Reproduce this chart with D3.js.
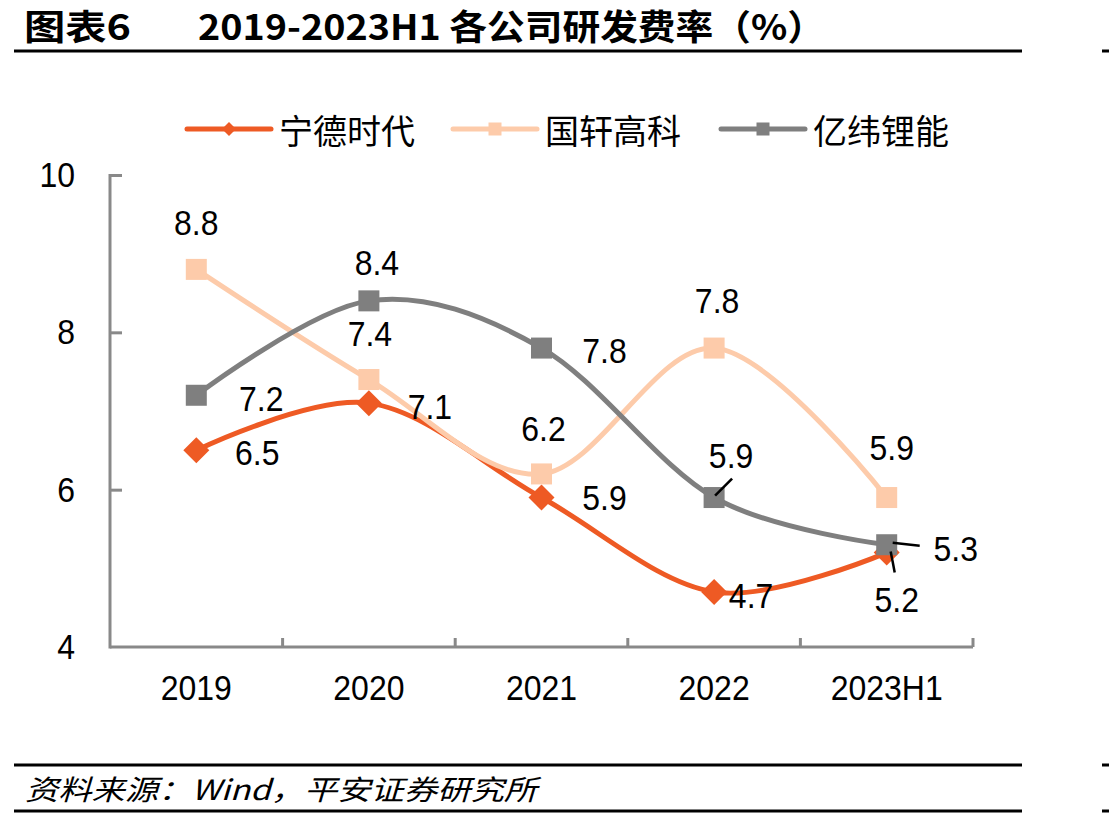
<!DOCTYPE html>
<html lang="zh">
<head>
<meta charset="UTF-8">
<script src="https://d3js.org/d3.v7.min.js"></script>
<style>
    body { margin: 0; background: #fff; }
    svg { display: block; }
    text { font-family: "Liberation Sans", Arial, "Noto Sans CJK SC", sans-serif; fill: #000; }
    .cjk { font-family: "Noto Sans CJK SC", sans-serif; }
    .axis path, .axis line { stroke: #898989; stroke-width: 3; fill: none; }
    .axis text { font-size: 32px; }
    .label { font-size: 32px; }
</style>
</head>
<body>
<svg id="chart" width="1109" height="821"></svg>
<script>
// data
const categories = ["2019", "2020", "2021", "2022", "2023H1"];
const seriesNames = ["宁德时代", "国轩高科", "亿纬锂能"];
const catlValues = [6.5, 7.1, 5.9, 4.7, 5.2];
const gotionValues = [8.8, 7.4, 6.2, 7.8, 5.9];
const eveValues = [7.2, 8.4, 7.8, 5.9, 5.3];
const yTicks = [4, 6, 8, 10];

const colors = ["#EE5A24", "#FDCBAA", "#7F7F7F"];
const shapes = ["diamond", "square", "square"];
const stretch = 1.12; // text in the original is a bit taller than wide

// label offsets from each marker, [dx, dy]
const labelOffsets = [
    [[61, 2], [61, 3], [63, 0], [37, 3], [10, 47]],
    [[0, -47], [1, -46], [2, -46], [3, -48], [5, -50]],
    [[65, 3], [8, -39], [63, 2], [17, -42], [69, 4]]
];

const svg = d3.select("#chart");

// title
svg.append("text").attr("class", "cjk")
    .attr("transform", "translate(24,40) scale(1,1.1)")
    .attr("font-size", 32).attr("font-weight", "bold")
    .attr("textLength", 107).attr("lengthAdjust", "spacingAndGlyphs")
    .text("图表6");
svg.append("text").attr("class", "cjk")
    .attr("transform", "translate(198,40) scale(1,1.1)")
    .attr("font-size", 32).attr("font-weight", "bold")
    .attr("textLength", 627).attr("lengthAdjust", "spacingAndGlyphs")
    .text("2019-2023H1 各公司研发费率（%）");

// rules
[51, 765, 811].forEach(y => {
    svg.append("line").attr("x1", 14).attr("x2", 1022).attr("y1", y).attr("y2", y)
        .attr("stroke", "#000").attr("stroke-width", 3);
    svg.append("line").attr("x1", 1102).attr("x2", 1109).attr("y1", y).attr("y2", y)
        .attr("stroke", "#000").attr("stroke-width", 3);
});

// footer
svg.append("text").attr("class", "cjk")
    .attr("x", 25).attr("y", 800)
    .attr("font-size", 28).attr("font-style", "italic")
    .attr("textLength", 512).attr("lengthAdjust", "spacingAndGlyphs")
    .text("资料来源：Wind，平安证券研究所");

// scales
const x = d3.scaleBand().domain(categories).range([110, 973]).padding(0);
const y = d3.scaleLinear().domain([4, 10]).range([647, 175]);
const cx = d => x(d) + x.bandwidth() / 2;

// y axis
const yAxis = svg.append("g").attr("class", "axis").attr("transform", "translate(110,0)")
    .call(d3.axisLeft(y).tickValues(yTicks).tickSizeInner(-12).tickSizeOuter(0).tickPadding(35).tickFormat(d3.format("d")));
yAxis.select(".domain").remove();
yAxis.selectAll(".tick line").filter(d => d === 4).remove();
yAxis.append("line").attr("x1", 0).attr("x2", 0).attr("y1", y(10) - 1).attr("y2", y(4) + 1.5);
yAxis.selectAll(".tick text").attr("fill", "#000").attr("transform", `scale(1,${stretch})`);

// x axis
const xAxis = svg.append("g").attr("class", "axis").attr("transform", "translate(0,647)")
    .call(d3.axisBottom(x).tickSize(0).tickPadding(25));
xAxis.select(".domain").remove();
xAxis.selectAll(".tick text").attr("fill", "#000").attr("transform", `scale(1,${stretch})`);
xAxis.append("line").attr("x1", 110).attr("x2", 973).attr("y1", 0).attr("y2", 0);
const bounds = categories.slice(1).map(c => x(c)).concat([973]);
xAxis.selectAll("line.bound").data(bounds).join("line")
    .attr("class", "bound")
    .attr("x1", d => d).attr("x2", d => d)
    .attr("y1", 0).attr("y2", -9);

// series
const allValues = [catlValues, gotionValues, eveValues];
const line = d3.line().x((d, i) => cx(categories[i])).y(d => y(d)).curve(d3.curveCatmullRom.alpha(0));

function marker(g, shape, color, px, py, size) {
    if (shape === "diamond") {
        const r = size / 2;
        g.append("path")
            .attr("d", `M${px},${py - r}L${px + r},${py}L${px},${py + r}L${px - r},${py}Z`)
            .attr("fill", color);
    } else {
        g.append("rect")
            .attr("x", px - size / 2).attr("y", py - size / 2)
            .attr("width", size).attr("height", size)
            .attr("fill", color);
    }
}

allValues.forEach((vals, s) => {
    const g = svg.append("g");
    g.append("path").datum(vals)
        .attr("d", line)
        .attr("fill", "none")
        .attr("stroke", colors[s])
        .attr("stroke-width", 5);
    vals.forEach((v, i) => {
        marker(g, shapes[s], colors[s], cx(categories[i]), y(v), shapes[s] === "diamond" ? 26 : 21);
    });
});

// leader lines
const leaders = [
    [2, 3, [1, -2], [18, -19]],
    [2, 4, [6, -2], [33, 1]],
    [0, 4, [4, -1], [8, 20]]
];
leaders.forEach(([s, i, a, b]) => {
    const px = cx(categories[i]), py = y(allValues[s][i]);
    svg.append("line")
        .attr("x1", px + a[0]).attr("y1", py + a[1])
        .attr("x2", px + b[0]).attr("y2", py + b[1])
        .attr("stroke", "#000").attr("stroke-width", 2.5);
});

// labels
allValues.forEach((vals, s) => {
    svg.append("g").selectAll("text").data(vals).join("text")
        .attr("class", "label")
        .attr("text-anchor", "middle")
        .attr("dominant-baseline", "central")
        .attr("transform", (d, i) => `translate(${cx(categories[i]) + labelOffsets[s][i][0]},${y(d) + labelOffsets[s][i][1]}) scale(1,${stretch})`)
        .text(d => d.toFixed(1));
});

// legend
const legendX = [187, 453, 721];
const legend = svg.append("g");
seriesNames.forEach((name, s) => {
    const lx = legendX[s], ly = 129;
    legend.append("line")
        .attr("x1", lx).attr("x2", lx + 84).attr("y1", ly).attr("y2", ly)
        .attr("stroke", colors[s]).attr("stroke-width", 5).attr("stroke-linecap", "round");
    marker(legend, shapes[s], colors[s], lx + 42, ly, shapes[s] === "diamond" ? 14 : 13);
    legend.append("text").attr("class", "cjk")
        .attr("transform", `translate(${lx + 92},${ly}) scale(1,1.05)`)
        .attr("dominant-baseline", "central")
        .attr("font-size", 32)
        .attr("textLength", 136).attr("lengthAdjust", "spacingAndGlyphs")
        .text(name);
});
</script>
</body>
</html>
